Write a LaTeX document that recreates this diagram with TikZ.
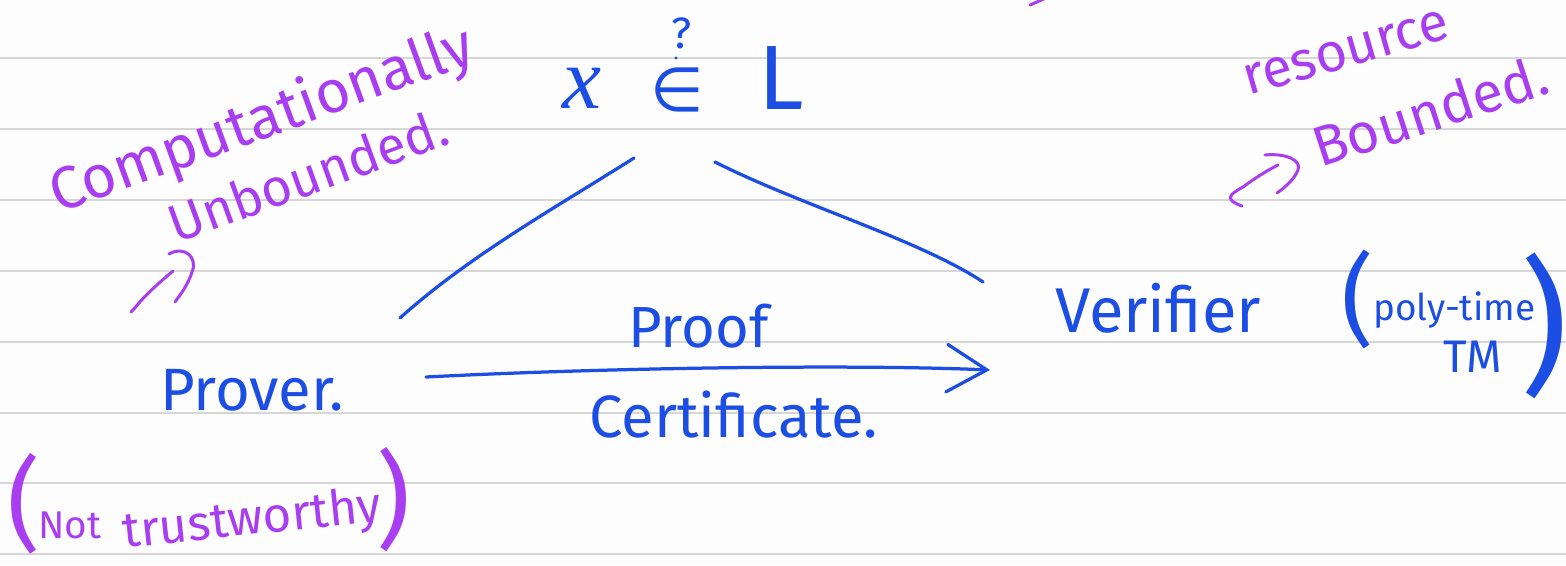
\documentclass[tikz,border=0pt]{standalone}
\usepackage{fontspec}
\setmainfont{Fira Sans}
\newfontfamily\symfont{DejaVu Sans}
\newfontfamily\xfont{Liberation Serif}
\usetikzlibrary{arrows.meta}
\definecolor{ink}{RGB}{28,78,228}
\definecolor{vio}{RGB}{168,62,240}
\definecolor{rulegray}{RGB}{214,214,214}
\definecolor{paper}{RGB}{253,253,253}
\newcommand{\hwsize}[1]{\fontsize{#1}{#1}\selectfont}
\begin{document}
\begin{tikzpicture}[x=0.02cm,y=-0.02cm,
  bl/.style={text=ink, inner sep=0pt},
  pu/.style={text=vio, inner sep=0pt},
  ruled/.style={draw=rulegray, line width=0.05cm},
  bstroke/.style={draw=ink, line width=0.065cm, line cap=round, line join=round},
  pstroke/.style={draw=vio, line width=0.06cm, line cap=round, line join=round}]
\fill[paper] (0,0) rectangle (1566,565);
\useasboundingbox (0,0) rectangle (1566,565);
\foreach \yy in {58,129,200,271,342,413,483,554} \draw[ruled] (0,\yy) -- (1566,\yy);
\begin{scope}
\clip (0,0) rectangle (1566,565);
% top fragment
\draw[pstroke] (1030,5) -- (1046,-2);
% question: x in L
\node[bl, font=\xfont\itshape\hwsize{50pt}] (x) at (582,88) {x};
\node[bl, font=\symfont\hwsize{35pt}] (in) at (677,90) {∈};
\node[bl, font=\hwsize{25pt}] (q) at (682,33) {?};
\fill[ink] (676,58) circle (1.6);
\node[bl, font=\hwsize{52pt}] (L) at (781,78) {L};
% purple notes left
\node[pu, anchor=base west, rotate=20, font=\hwsize{34pt}] (comp) at (58,214) {Computationally};
\node[pu, anchor=base west, rotate=20, font=\hwsize{30pt}] (unb) at (176,244) {Unbounded.};
% purple notes right
\node[pu, anchor=base west, rotate=16, font=\hwsize{31pt}] (res) at (1248,96) {resource};
\node[pu, anchor=base west, rotate=18, font=\hwsize{32pt}] (bnd) at (1320,168) {Bounded.};
% prover / verifier
\node[bl, anchor=base west, font=\hwsize{34pt}] (prover) at (160,410) {Prover.};
\node[bl, anchor=base west, font=\hwsize{36pt}] (verifier) at (1055,332) {Verifier};
\node[bl, font=\hwsize{57pt}] (lp) at (1358,299) {(};
\node[bl, anchor=base west, font=\hwsize{21pt}] (poly) at (1373,320) {poly-time};
\node[bl, font=\hwsize{26pt}] (tm) at (1473,357) {TM};
\node[bl, font=\hwsize{84pt}] (rp) at (1544,326) {)};
% not trustworthy
\node[pu, font=\hwsize{58pt}] (lp2) at (24,504) {(};
\node[pu, anchor=base west, font=\hwsize{22pt}] (nott) at (38,538) {Not};
\node[pu, anchor=base west, rotate=6, font=\hwsize{28pt}] (trust) at (124,548) {trustworthy};
\node[pu, font=\hwsize{60pt}] (rp2) at (394,500) {)};
% arrow labels
\node[bl, anchor=base west, font=\hwsize{33pt}] (proof) at (628,347) {Proof};
\node[bl, anchor=base west, font=\hwsize{34pt}] (cert) at (589,437) {Certificate.};
% connectors
\coordinate (lt) at (634,158);
\coordinate (le) at (400,318);
\coordinate (rt) at (715,162);
\coordinate (re) at (983,282);
\coordinate (as) at (426,377);
\coordinate (ae) at (990,370);
\draw[bstroke] (lt) .. controls (560,205) and (470,255) .. (le);
\draw[bstroke] (rt) .. controls (800,205) and (920,240) .. (re);
\draw[bstroke, -{Straight Barb[length=0.8cm, width=0.95cm, line cap=round]}] (as) .. controls (600,368) and (850,364) .. (ae);
% purple squiggle arrows
\draw[pstroke] (131,312) -- (134,309) .. controls (145,295) and (160,282) .. (173,271);
\draw[pstroke] (169,254) .. controls (185,245) and (198,258) .. (192,272) .. controls (188,285) and (180,295) .. (175,302);
\draw[pstroke] (1242,206) .. controls (1225,200) and (1228,195) .. (1243,187) .. controls (1255,178) and (1268,170) .. (1278,165);
\draw[pstroke] (1265,155) .. controls (1285,153) and (1302,160) .. (1298,170) .. controls (1294,180) and (1284,188) .. (1277,193);
\end{scope}
\end{tikzpicture}
\end{document}
